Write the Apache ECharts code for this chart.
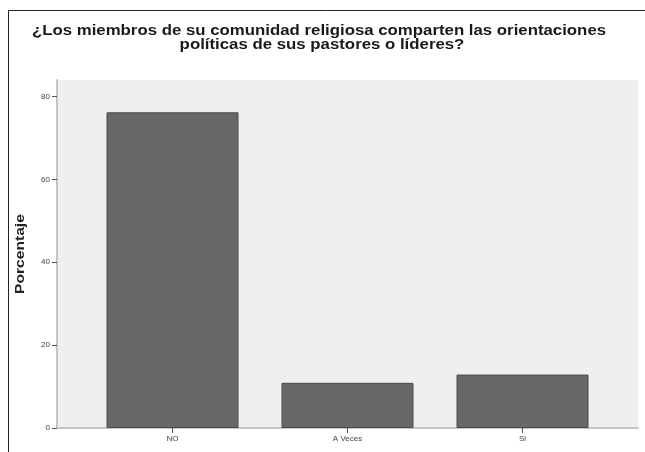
<!DOCTYPE html>
<html>
<head>
<meta charset="utf-8">
<script src="https://cdn.jsdelivr.net/npm/echarts@6/dist/echarts.min.js"></script>
<style>html,body{margin:0;padding:0;background:#fff}#c{width:645px;height:452px}</style>
</head>
<body>
<div id="c"></div>
<script>
const categories = ['NO', 'A Veces', 'Si'];
const values = [76.2, 10.9, 12.9];
const yTicks = [0, 20, 40, 60, 80];
const titleLines = ['¿Los miembros de su comunidad religiosa comparten las orientaciones', 'políticas de sus pastores o líderes?'];
const yName = 'Porcentaje';

const chart = echarts.init(document.getElementById('c'), null, {renderer: 'canvas'});
const catIdx = categories.map((c, i) => i);
const FONT = 'Liberation Sans, Arial, sans-serif';
chart.setOption({
  animation: false,
  backgroundColor: '#ffffff',
  graphic: [{
    type: 'polyline', silent: true,
    shape: {points: [[8.5, 452], [8.5, 10.5], [645, 10.5]]},
    style: {stroke: '#222', lineWidth: 1, fill: null}
  }, {
    type: 'text', silent: true, x: 319, y: 31, scaleX: 1.12,
    style: {text: titleLines[0], font: 'bold 15px ' + FONT, fill: '#1a1a1a', align: 'center', verticalAlign: 'middle'}
  }, {
    type: 'text', silent: true, x: 322, y: 45, scaleX: 1.12,
    style: {text: titleLines[1], font: 'bold 15px ' + FONT, fill: '#1a1a1a', align: 'center', verticalAlign: 'middle'}
  }, {
    type: 'text', silent: true, x: 21, y: 254, rotation: Math.PI / 2, scaleX: 1.3,
    style: {text: yName, font: 'bold 12px ' + FONT, fill: '#222', align: 'center', verticalAlign: 'middle'}
  }],
  grid: {left: 57, right: 7, top: 80, bottom: 24, show: true, backgroundColor: '#efefef', borderWidth: 0},
  xAxis: {
    type: 'value', min: -0.66, max: 2.66,
    splitLine: {show: false},
    axisLine: {show: true, onZero: false, lineStyle: {color: '#c4c4c4', width: 2}},
    axisTick: {show: true, customValues: catIdx, length: 5, lineStyle: {color: '#555'}},
    axisLabel: {customValues: catIdx, formatter: v => categories[Math.round(v)] || '', fontSize: 8, color: '#444', fontFamily: FONT, margin: 7}
  },
  yAxis: {
    type: 'value', min: 0, max: 84,
    splitLine: {show: false},
    axisLine: {show: true, onZero: false, lineStyle: {color: '#c4c4c4', width: 2}},
    axisTick: {show: true, customValues: yTicks, length: 5, lineStyle: {color: '#555'}},
    axisLabel: {customValues: yTicks, fontSize: 8, color: '#444', fontFamily: FONT, margin: 7}
  },
  series: [{
    type: 'bar',
    data: values.map((v, i) => [i, v]),
    barWidth: 132,
    itemStyle: {color: '#686868', borderColor: '#4a4a4a', borderWidth: 1}
  }]
});
</script>
</body>
</html>
